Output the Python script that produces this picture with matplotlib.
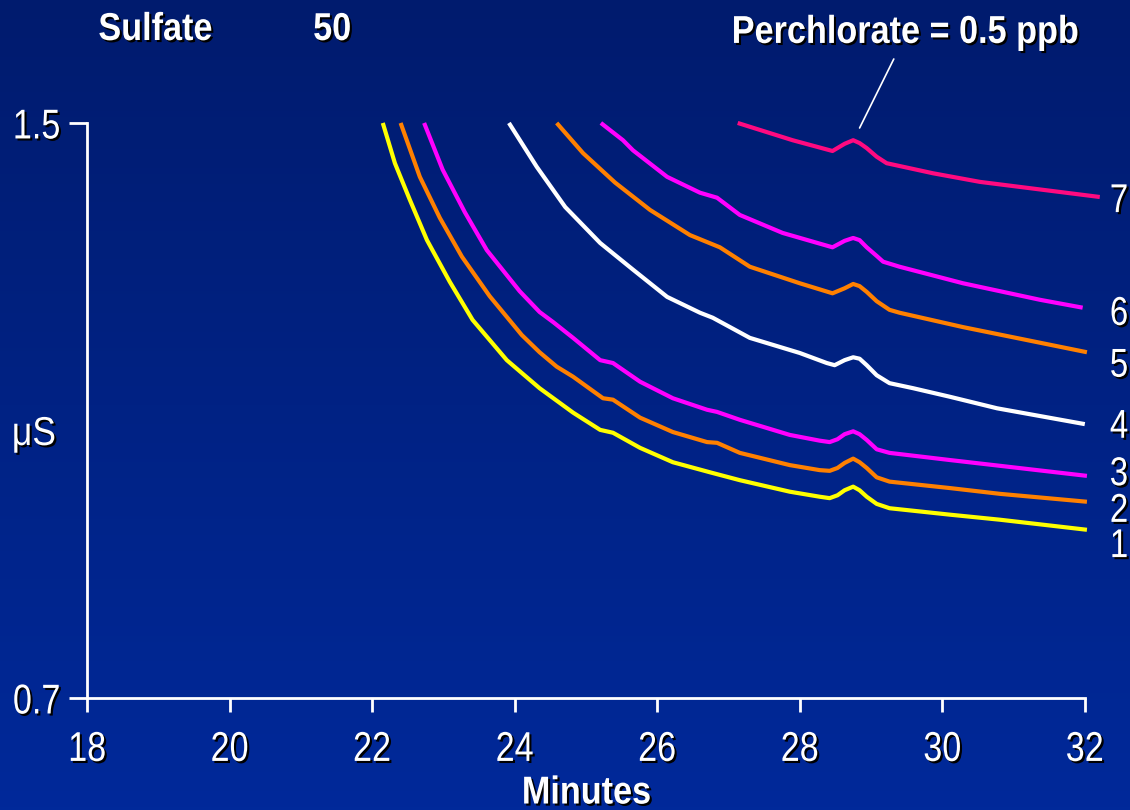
import numpy as np
import matplotlib.pyplot as plt
import matplotlib.patheffects as pe
from matplotlib.colors import LinearSegmentedColormap
from matplotlib.transforms import Affine2D

plt.rcParams['font.family'] = ['Liberation Sans', 'DejaVu Sans']

# traces (minutes, uS), bottom to top
t1 = [22.15, 22.32, 22.53, 22.77, 23.09, 23.41, 23.89, 24.35, 24.82, 25.20, 25.38, 25.76, 26.22, 26.74,
      27.16, 27.86, 28.28, 28.42, 28.53, 28.63, 28.75, 28.84, 28.94, 29.08, 29.26, 30.11, 30.81, 32.03]
s1 = [1.500, 1.444, 1.393, 1.337, 1.279, 1.226, 1.170, 1.131, 1.097, 1.073, 1.069, 1.048, 1.028, 1.014,
      1.003, 0.987, 0.980, 0.978, 0.982, 0.989, 0.994, 0.989, 0.980, 0.970, 0.964, 0.955, 0.948, 0.934]

t2 = [22.40, 22.67, 22.95, 23.26, 23.65, 24.10, 24.35, 24.59, 24.82, 25.24, 25.38, 25.76, 26.22, 26.70,
      26.84, 27.16, 27.86, 28.28, 28.42, 28.53, 28.63, 28.75, 28.84, 28.94, 29.08, 29.26, 30.11, 30.81, 32.03]
s2 = [1.500, 1.425, 1.368, 1.314, 1.259, 1.205, 1.181, 1.161, 1.147, 1.117, 1.115, 1.090, 1.070, 1.056,
      1.055, 1.041, 1.024, 1.017, 1.016, 1.020, 1.027, 1.033, 1.028, 1.020, 1.007, 1.001, 0.992, 0.984, 0.973]

t3 = [22.73, 22.99, 23.30, 23.61, 24.07, 24.35, 24.54, 24.82, 25.20, 25.38, 25.76, 26.22, 26.70, 26.84,
      27.16, 27.86, 28.28, 28.42, 28.53, 28.63, 28.75, 28.84, 28.94, 29.08, 29.26, 30.11, 30.81, 32.03]
s3 = [1.500, 1.435, 1.376, 1.323, 1.266, 1.237, 1.223, 1.201, 1.170, 1.166, 1.140, 1.117, 1.101, 1.098,
      1.087, 1.066, 1.058, 1.056, 1.060, 1.067, 1.071, 1.067, 1.059, 1.046, 1.041, 1.031, 1.023, 1.009]

t4 = [23.92, 24.31, 24.71, 25.20, 25.66, 26.14, 26.60, 26.78, 27.30, 28.00, 28.38, 28.49, 28.63, 28.75,
      28.84, 28.94, 29.08, 29.26, 29.59, 30.11, 30.77, 32.00]
s4 = [1.500, 1.439, 1.383, 1.333, 1.296, 1.258, 1.236, 1.229, 1.201, 1.180, 1.166, 1.163, 1.170, 1.174,
      1.172, 1.163, 1.149, 1.138, 1.131, 1.119, 1.103, 1.081]

t5 = [24.59, 24.96, 25.41, 25.90, 26.46, 26.88, 27.30, 28.00, 28.46, 28.63, 28.75, 28.84, 28.94, 29.08,
      29.26, 29.40, 30.29, 32.03]
s5 = [1.500, 1.458, 1.417, 1.379, 1.344, 1.327, 1.300, 1.277, 1.263, 1.270, 1.276, 1.273, 1.265, 1.252,
      1.240, 1.236, 1.216, 1.181]

t6 = [25.21, 25.52, 25.66, 26.14, 26.60, 26.84, 27.16, 27.76, 28.46, 28.63, 28.75, 28.84, 28.94, 29.08,
      29.17, 29.40, 30.29, 31.37, 31.97]
s6 = [1.500, 1.476, 1.462, 1.425, 1.403, 1.396, 1.372, 1.347, 1.327, 1.336, 1.340, 1.337, 1.327, 1.315,
      1.307, 1.300, 1.277, 1.254, 1.243]

t7 = [27.13, 27.90, 28.46, 28.63, 28.75, 28.84, 28.94, 29.08, 29.22, 29.87, 30.53, 32.21]
s7 = [1.500, 1.476, 1.461, 1.471, 1.476, 1.472, 1.465, 1.453, 1.444, 1.430, 1.418, 1.397]

traces = [(t1, s1), (t2, s2), (t3, s3), (t4, s4), (t5, s5), (t6, s6), (t7, s7)]
trace_labels = ['1', '2', '3', '4', '5', '6', '7']
label_y = [0.896, 0.945, 0.996, 1.062, 1.147, 1.219, 1.376]
colors = ['#ffff00', '#ff8000', '#ff00ff', '#ffffff', '#ff8000', '#ff00ff', '#ff0a80']

xticks = [18, 20, 22, 24, 26, 28, 30, 32]
yticks = [0.7, 1.5]
ytick_labels = ['0.7', '1.5']


class Narrow(pe.AbstractPathEffect):
    # squeeze text horizontally (condensed look) and add a drop shadow
    def __init__(self, sx=0.8, anchor='center', shadow=(1.5, -1.5)):
        super().__init__()
        self.sx = sx
        self.anchor = anchor
        self.shadow = shadow

    def draw_path(self, renderer, gc, tpath, affine, rgbFace=None):
        ext = tpath.get_extents()
        if self.anchor == 'right':
            cx = ext.x1
        elif self.anchor == 'left':
            cx = ext.x0
        else:
            cx = (ext.x0 + ext.x1) / 2
        squeeze = Affine2D().translate(-cx, 0).scale(self.sx, 1).translate(cx, 0)
        dx = renderer.points_to_pixels(self.shadow[0])
        dy = renderer.points_to_pixels(self.shadow[1])
        gc0 = renderer.new_gc()
        gc0.copy_properties(gc)
        gc0.set_foreground('black')
        renderer.draw_path(gc0, tpath, squeeze + affine + Affine2D().translate(dx, dy), (0, 0, 0))
        gc0.restore()
        renderer.draw_path(gc, tpath, squeeze + affine, rgbFace)


fig = plt.figure(figsize=(11.3, 8.1), dpi=100)

bg = fig.add_axes([0, 0, 1, 1], zorder=-10)
grad = np.linspace(0, 1, 256).reshape(-1, 1)
cmap = LinearSegmentedColormap.from_list('bg', ['#001b6e', '#00299a'])
bg.imshow(grad, aspect='auto', cmap=cmap, extent=[0, 1, 0, 1], origin='upper')
bg.axis('off')

ax = fig.add_axes([0.077, 0.1383, 0.883, 0.7099])
ax.patch.set_alpha(0)

for (t, s), c in zip(traces, colors):
    ax.plot(t, s, color=c, lw=3.0, solid_capstyle='butt', solid_joinstyle='round', clip_on=False)

for lab, yy in zip(trace_labels, label_y):
    ax.text(32.48, yy, lab, color='white', fontsize=29, ha='center', va='baseline',
            path_effects=[Narrow(0.82)], clip_on=False)

ax.annotate('', xy=(28.84, 1.493), xytext=(29.32, 1.589), annotation_clip=False,
            arrowprops=dict(arrowstyle='-', color='white', lw=1.2, shrinkA=0, shrinkB=0))

ax.set_xlim(18, 32)
ax.set_ylim(0.7, 1.5)
ax.set_xticks(xticks)
ax.set_yticks(yticks)
ax.set_xticklabels([str(v) for v in xticks])
ax.set_yticklabels(ytick_labels)
for sp in ['top', 'right']:
    ax.spines[sp].set_visible(False)
for sp in ['left', 'bottom']:
    ax.spines[sp].set_color('white')
    ax.spines[sp].set_linewidth(2)
ax.tick_params(axis='x', colors='white', length=10, width=2, pad=13, labelsize=30)
ax.tick_params(axis='y', colors='white', length=13, width=2, pad=6, labelsize=30)
for lab in ax.get_xticklabels():
    lab.set_path_effects([Narrow(0.82)])
for lab in ax.get_yticklabels():
    lab.set_path_effects([Narrow(0.82, anchor='right')])

fig.text(0.030, 0.4506, 'μS', color='white', fontsize=29, ha='center', va='baseline',
         path_effects=[Narrow(0.88)])
fig.text(0.519, 0.008, 'Minutes', color='white', fontsize=28, fontweight='bold', ha='center',
         va='baseline', path_effects=[Narrow(0.88)])
fig.text(0.1376, 0.9506, 'Sulfate', color='white', fontsize=28, fontweight='bold', ha='center',
         va='baseline', path_effects=[Narrow(0.88)])
fig.text(0.294, 0.9506, '50', color='white', fontsize=28, fontweight='bold', ha='center',
         va='baseline', path_effects=[Narrow(0.88)])
fig.text(0.801, 0.947, 'Perchlorate = 0.5 ppb', color='white', fontsize=28, fontweight='bold',
         ha='center', va='baseline', path_effects=[Narrow(0.88)])

fig.savefig('out.png', dpi=100)
